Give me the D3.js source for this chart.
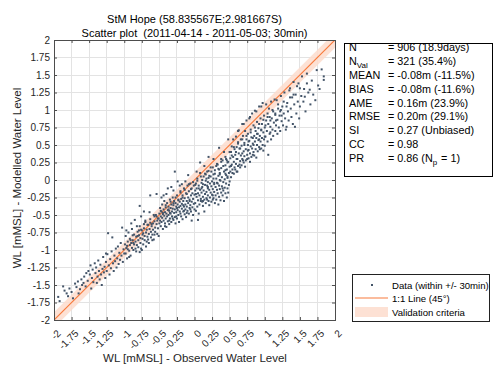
<!DOCTYPE html>
<html>
<head>
<meta charset="utf-8">
<script src="https://cdn.jsdelivr.net/npm/d3@7"></script>
<style>
  html, body { margin: 0; padding: 0; background: #fff; }
  svg { display: block; font-family: "Liberation Sans", Arial, sans-serif; }
  text { white-space: pre; }
</style>
</head>
<body>
<svg id="chart" width="496" height="365"></svg>
<script>
// ---------- DATA ----------
const titleLines = ["StM Hope (58.835567E;2.981667S)", "Scatter plot  (2011-04-14 - 2011-05-03; 30min)"];
const xLabel = "WL [mMSL] - Observed Water Level";
const yLabel = "WL [mMSL] - Modelled Water Level";
const tickValues = [-2, -1.75, -1.5, -1.25, -1, -0.75, -0.5, -0.25, 0, 0.25, 0.5, 0.75, 1, 1.25, 1.5, 1.75, 2];
const tickLabels = ["-2", "-1.75", "-1.5", "-1.25", "-1", "-0.75", "-0.5", "-0.25", "0", "0.25", "0.5", "0.75", "1", "1.25", "1.5", "1.75", "2"];
const axisDomain = [-2, 2];
const validationHalfWidth = 0.11;
const statNames = ["N", "N_Val", "MEAN", "BIAS", "AME", "RMSE", "SI", "CC", "PR"];
const statValues = ["= 906 (18.9days)", "= 321 (35.4%)", "= -0.08m (-11.5%)", "= -0.08m (-11.6%)", "= 0.16m (23.9%)", "= 0.20m (29.1%)", "= 0.27 (Unbiased)", "= 0.98", "= 0.86 (N_p = 1)"];
const legendLabels = ["Data (within +/- 30min)", "1:1 Line (45\u00b0)", "Validation criteria"];

// observed (x), modelled (y) pairs
const scatterPairs = [
[-1.94,-1.67],[-1.87,-1.52],[-1.85,-1.58],[-1.82,-1.62],[-1.73,-1.69],[-1.78,-1.55],[-1.70,-1.48],[-1.68,-1.53],[-1.66,-1.45],[-1.63,-1.56],[-1.61,-1.42],[-1.60,-1.50],[-1.58,-1.47],[-1.57,-1.38],[-1.55,-1.52],[-1.54,-1.33],[-1.52,-1.44],[-1.51,-1.30],[-1.92,-1.73],[-1.80,-1.66],[-1.75,-1.60],[-1.65,-1.62],
[-1.49,-1.35],[-1.48,-1.22],[-1.46,-1.40],[-1.45,-1.28],[-1.44,-1.46],[-1.42,-1.19],[-1.41,-1.33],[-1.40,-1.25],[-1.38,-1.38],[-1.37,-1.15],[-1.36,-1.30],[-1.35,-1.42],[-1.34,-1.21],[-1.33,-1.35],[-1.31,-1.27],[-1.30,-1.10],[-1.29,-1.32],[-1.28,-1.24],[-1.27,-1.40],[-1.26,-1.17],[-1.25,-1.30],[-1.24,-1.06],[-1.23,-0.76],[-1.22,-1.22],[-1.21,-1.35],[-1.20,-1.13],[-1.19,-1.26],[-1.18,-1.02],[-1.17,-0.82],[-1.16,-1.19],[-1.15,-1.30],[-1.14,-1.08],[-1.13,-1.16],[-1.12,-0.98],[-1.11,-1.25],[-1.10,-1.12],[-1.09,-0.95],[-1.08,-1.20],[-1.07,-1.04],[-1.06,-1.14],[-1.05,-0.90],[-1.04,-1.08],[-1.03,-0.68],[-1.02,-1.17],[-1.01,-0.99],[-1.00,-1.05],[-1.47,-1.55],[-1.39,-1.47],[-1.32,-1.50],[-1.26,-1.05],
[-0.99,-0.92],[-0.98,-1.05],[-0.98,-0.80],[-0.97,-0.97],[-0.96,-1.12],[-0.95,-0.88],[-0.95,-0.99],[-0.94,-0.75],[-0.93,-1.01],[-0.92,-0.93],[-0.92,-0.84],[-0.91,-1.08],[-0.90,-0.90],[-0.89,-0.97],[-0.89,-0.70],[-0.88,-0.86],[-0.87,-1.00],[-0.86,-0.92],[-0.86,-0.78],[-0.85,-0.57],[-0.84,-0.88],[-0.83,-1.02],[-0.83,-0.81],[-0.82,-0.93],[-0.81,-0.74],[-0.80,-0.86],[-0.80,-0.96],[-0.79,-0.79],[-0.78,-0.66],[-0.77,-0.90],[-0.77,-0.83],[-0.76,-0.98],[-0.75,-0.72],[-0.74,-0.84],[-0.74,-0.78],[-0.73,-0.92],[-0.72,-0.69],[-0.71,-0.80],[-0.71,-0.86],[-0.70,-0.60],[-0.69,-0.75],[-0.68,-0.88],[-0.68,-0.71],[-0.67,-0.81],[-0.66,-0.64],[-0.65,-0.77],[-0.65,-0.90],[-0.64,-0.70],[-0.63,-0.56],[-0.62,-0.74],[-0.62,-0.82],[-0.61,-0.66],[-0.60,-0.78],[-0.59,-0.62],[-0.59,-0.71],[-0.58,-0.85],[-0.57,-0.59],[-0.56,-0.68],[-0.56,-0.74],[-0.55,-0.50],[-0.54,-0.63],[-0.53,-0.77],[-0.53,-0.58],[-0.52,-0.69],[-0.51,-0.55],[-0.51,-0.80],[-0.50,-0.62],[-0.97,-0.72],[-0.90,-0.62],[-0.82,-0.66],[-0.76,-0.52],[-0.70,-0.58],[-0.64,-0.46],[-0.58,-0.50],[-0.93,-1.10],[-0.84,-0.98],[-0.75,-1.00],[-0.66,-0.85],[-0.57,-0.78],[-0.88,-0.79],[-0.79,-0.72],[-0.72,-0.63],[-0.63,-0.61],[-0.54,-0.52],[-0.60,-0.86],[-0.69,-0.95],[-0.78,-1.03],[-0.78,-0.37],[-0.63,-0.22],[-0.54,-0.20],[-0.72,-0.45],
[-0.50,-0.48],[-0.49,-0.58],[-0.49,-0.40],[-0.48,-0.66],[-0.48,-0.52],[-0.47,-0.45],[-0.47,-0.60],[-0.46,-0.35],[-0.46,-0.54],[-0.45,-0.49],[-0.45,-0.70],[-0.44,-0.42],[-0.44,-0.58],[-0.43,-0.51],[-0.43,-0.30],[-0.42,-0.62],[-0.42,-0.46],[-0.41,-0.39],[-0.41,-0.55],[-0.40,-0.48],[-0.40,-0.67],[-0.39,-0.33],[-0.39,-0.52],[-0.38,-0.43],[-0.38,-0.59],[-0.37,-0.38],[-0.37,-0.50],[-0.36,-0.63],[-0.36,-0.44],[-0.35,-0.28],[-0.35,-0.55],[-0.34,-0.40],[-0.34,-0.48],[-0.33,-0.60],[-0.33,-0.35],[-0.32,-0.45],[-0.32,-0.52],[-0.31,-0.25],[-0.31,-0.41],[-0.30,-0.57],[-0.30,-0.36],[-0.29,-0.47],[-0.29,-0.30],[-0.28,0.12],[-0.28,-0.42],[-0.28,-0.53],[-0.27,-0.33],[-0.27,-0.62],[-0.26,-0.38],[-0.26,-0.46],[-0.25,-0.22],[-0.25,-0.55],[-0.24,-0.35],[-0.24,-0.43],[-0.23,-0.28],[-0.23,-0.50],[-0.22,-0.39],[-0.22,-0.60],[-0.21,-0.31],[-0.21,-0.45],[-0.20,-0.18],[-0.20,-0.37],[-0.19,-0.52],[-0.19,-0.27],[-0.18,-0.41],[-0.18,-0.34],[-0.17,-0.56],[-0.17,-0.22],[-0.16,-0.45],[-0.16,-0.30],[-0.15,-0.38],[-0.15,-0.12],[-0.14,-0.49],[-0.14,-0.26],[-0.13,-0.35],[-0.13,-0.42],[-0.12,-0.19],[-0.12,-0.53],[-0.11,-0.30],[-0.11,-0.38],[-0.10,-0.08],[-0.10,-0.44],[-0.09,0.07],[-0.09,-0.25],[-0.09,-0.33],[-0.08,-0.48],[-0.08,-0.16],[-0.07,-0.40],[-0.07,-0.28],[-0.06,-0.36],[-0.06,-0.05],[-0.05,-0.22],[-0.05,-0.45],[-0.04,-0.31],[-0.04,-0.12],[-0.03,-0.39],[-0.03,-0.19],[-0.02,-0.27],[-0.02,-0.50],[-0.01,-0.08],[-0.01,-0.34],[0.00,-0.21],[0.00,-0.42],[-0.44,-0.22],[-0.38,-0.12],[-0.33,-0.10],[-0.24,-0.02],[-0.18,-0.06],[-0.47,-0.25],[-0.40,-0.20],[-0.30,-0.15],[-0.21,-0.08],[-0.13,-0.02],[-0.36,-0.58],[-0.26,-0.52],[-0.15,-0.44],[-0.06,-0.42],[-0.42,-0.66],[-0.31,-0.55],[-0.20,-0.48],[-0.11,-0.47],[-0.04,-0.58],
[0.01,-0.15],[0.01,-0.33],[0.02,-0.05],[0.02,-0.44],[0.03,-0.24],[0.03,-0.12],[0.04,-0.38],[0.04,0.02],[0.05,-0.19],[0.05,-0.29],[0.06,-0.48],[0.06,-0.08],[0.07,-0.22],[0.07,-0.35],[0.08,0.10],[0.08,-0.14],[0.09,-0.27],[0.09,-0.30],[0.10,-0.04],[0.10,-0.18],[0.11,-0.31],[0.11,-0.10],[0.12,-0.24],[0.12,-0.37],[0.13,0.05],[0.13,-0.15],[0.14,-0.28],[0.14,-0.45],[0.15,-0.07],[0.15,-0.20],[0.16,-0.33],[0.16,-0.01],[0.17,-0.17],[0.17,-0.26],[0.18,-0.28],[0.18,0.12],[0.19,-0.10],[0.19,-0.22],[0.20,-0.30],[0.20,0.03],[0.21,-0.14],[0.21,-0.36],[0.22,-0.05],[0.22,-0.25],[0.23,0.18],[0.23,-0.18],[0.24,-0.31],[0.24,-0.09],[0.25,-0.21],[0.25,-0.02],[0.26,-0.22],[0.26,-0.13],[0.27,0.08],[0.27,-0.26],[0.28,-0.06],[0.28,-0.17],[0.29,-0.33],[0.29,0.14],[0.30,-0.10],[0.30,-0.22],[0.31,0.02],[0.31,-0.28],[0.32,-0.14],[0.32,-0.04],[0.33,0.22],[0.33,-0.19],[0.34,-0.35],[0.34,0.06],[0.35,-0.08],[0.35,-0.24],[0.36,0.10],[0.36,-0.13],[0.37,-0.01],[0.37,-0.29],[0.38,-0.18],[0.38,0.17],[0.39,0.04],[0.39,-0.09],[0.40,-0.22],[0.40,0.28],[0.41,-0.03],[0.41,-0.15],[0.42,0.12],[0.42,-0.30],[0.43,0.01],[0.43,-0.11],[0.44,0.21],[0.44,-0.19],[0.45,0.07],[0.45,-0.05],[0.46,-0.25],[0.46,0.15],[0.47,-0.12],[0.47,0.03],[0.48,0.26],[0.48,-0.18],[0.49,0.10],[0.49,-0.07],[0.50,0.19],[0.50,-0.02],[0.03,0.12],[0.08,0.25],[0.14,0.20],[0.20,0.33],[0.27,0.30],[0.35,0.46],[0.42,0.40],[0.48,0.58],[0.12,-0.30],[0.19,-0.12],[0.26,-0.28],[0.33,-0.05],[0.40,-0.12],[0.47,0.05],[0.05,-0.57],[0.16,0.08],[0.24,0.12],[0.31,0.20],[0.38,0.26],[0.45,0.30],[0.18,-0.08],[0.28,-0.04],[0.36,0.00],[0.44,0.09],[0.11,0.00],[0.21,0.06],[0.34,0.16],[0.46,0.28],
[0.51,0.31],[0.51,0.12],[0.52,0.40],[0.52,0.04],[0.53,0.22],[0.53,0.48],[0.54,0.15],[0.54,0.10],[0.55,0.33],[0.55,0.58],[0.56,0.09],[0.56,0.26],[0.57,0.44],[0.57,0.18],[0.58,0.15],[0.58,0.36],[0.59,0.62],[0.59,0.23],[0.60,0.12],[0.60,0.47],[0.61,0.30],[0.61,0.12],[0.62,0.54],[0.62,0.20],[0.63,0.38],[0.63,0.71],[0.64,0.22],[0.64,0.45],[0.65,0.27],[0.65,0.18],[0.66,0.58],[0.66,0.35],[0.67,0.21],[0.67,0.49],[0.68,0.80],[0.68,0.30],[0.69,0.28],[0.69,0.63],[0.70,0.41],[0.70,0.25],[0.71,0.53],[0.71,0.34],[0.72,0.19],[0.72,0.70],[0.73,0.44],[0.73,0.28],[0.74,0.58],[0.74,0.85],[0.75,0.36],[0.75,0.30],[0.76,0.50],[0.76,0.66],[0.77,0.31],[0.77,0.43],[0.78,0.88],[0.78,0.56],[0.79,0.38],[0.79,0.26],[0.80,0.72],[0.80,0.48],[0.81,0.33],[0.81,0.61],[0.82,0.95],[0.82,0.45],[0.83,0.52],[0.83,0.36],[0.84,0.78],[0.84,0.40],[0.85,0.63],[0.85,0.35],[0.86,0.55],[0.86,0.99],[0.87,0.44],[0.87,0.70],[0.88,0.32],[0.88,0.60],[0.89,0.83],[0.89,0.50],[0.90,0.66],[0.90,0.41],[0.91,0.74],[0.91,0.57],[0.92,1.05],[0.92,0.47],[0.93,0.63],[0.93,0.44],[0.94,0.88],[0.94,0.55],[0.95,0.71],[0.95,0.45],[0.96,0.80],[0.96,0.60],[0.97,1.10],[0.97,0.50],[0.98,0.68],[0.98,0.42],[0.99,0.92],[0.99,0.58],[1.00,0.75],[1.00,0.49],[0.62,0.70],[0.70,0.80],[0.79,0.90],[0.88,0.98],[0.95,1.05],
[1.01,0.62],[1.02,0.85],[1.02,1.08],[1.03,0.70],[1.04,0.95],[1.04,0.55],[1.05,0.80],[1.05,0.36],[1.06,1.02],[1.07,0.90],[1.07,0.66],[1.08,0.76],[1.09,1.12],[1.09,0.58],[1.10,0.88],[1.11,0.72],[1.12,0.98],[1.12,0.63],[1.13,0.82],[1.14,1.15],[1.15,0.70],[1.15,0.93],[1.16,0.78],[1.17,1.14],[1.18,0.86],[1.18,0.66],[1.19,1.02],[1.20,0.75],[1.21,0.92],[1.22,0.98],[1.22,0.70],[1.23,1.20],[1.24,0.84],[1.25,1.05],[1.26,0.78],[1.27,0.95],[1.28,1.25],[1.29,0.88],[1.30,0.72],[1.31,0.76],[1.32,1.10],[1.33,0.98],[1.34,0.85],[1.35,1.28],[1.36,1.31],[1.37,1.02],[1.38,0.90],[1.39,1.18],[1.40,0.80],[1.41,1.40],[1.42,1.08],[1.43,0.76],[1.44,1.22],[1.45,0.95],[1.46,1.34],[1.47,1.12],[1.48,1.38],[1.49,0.88],[1.50,1.31],[1.50,1.05],
[1.52,1.20],[1.53,1.48],[1.55,1.12],[1.56,1.30],[1.57,1.19],[1.58,0.98],[1.60,1.52],[1.60,1.38],[1.62,1.25],[1.64,1.29],[1.65,1.08],[1.67,1.42],[1.69,1.22],[1.72,1.14],[1.74,1.57],[1.76,1.35],[1.78,1.30],[1.81,1.58],[1.84,1.43],[1.84,1.48],
[-0.96,-0.94],[-0.91,-0.86],[-0.87,-0.90],[-0.81,-0.80],[-0.76,-0.71],[-0.73,-0.76],[-0.67,-0.64],[-0.61,-0.63],[-0.57,-0.52],[-0.52,-0.55],[-0.48,-0.44],[-0.45,-0.47],[-0.41,-0.36],[-0.37,-0.42],[-0.34,-0.31],[-0.30,-0.33],[-0.27,-0.25],[-0.23,-0.29],[-0.20,-0.16],[-0.17,-0.25],[-0.14,-0.14],[-0.11,-0.20],[-0.08,-0.06],[-0.05,-0.13],[-0.02,-0.03],[0.01,-0.07],[0.04,-0.01],[0.06,-0.12],[0.09,0.05],[0.12,-0.06],[0.15,0.09],[0.17,0.02],[0.20,0.13],[0.23,0.05],[0.26,0.18],[0.29,0.09],[0.32,0.23],[0.35,0.15],[0.38,0.30],[0.41,0.20],[0.44,0.33],[0.47,0.25],[0.50,0.40],[0.53,0.35],[0.56,0.47],[0.59,0.40],[0.62,0.52],[0.65,0.45],[0.68,0.58],[0.71,0.50],[0.74,0.63],[0.77,0.55],[0.80,0.68],[0.83,0.60],[0.86,0.75],[0.89,0.66],[0.92,0.80],[0.95,0.72],[0.98,0.86],[1.01,0.78],[1.04,0.90],[1.08,0.85],[1.11,1.00],[1.15,0.95],[1.19,1.08],[1.23,1.00],[1.27,1.12],[1.31,1.05],[1.36,1.18],[1.41,1.22],
[-0.35,-0.47],[-0.25,-0.40],[-0.16,-0.36],[-0.07,-0.30],[0.02,-0.20],[0.10,-0.12],[0.19,-0.03],[0.27,0.02],[0.36,0.08],[0.44,0.14],[0.52,0.20],[0.60,0.30],[0.68,0.38],[0.76,0.42],[0.84,0.50],[0.92,0.58],[1.00,0.62],[1.08,0.68],[1.16,0.85],[1.24,0.92]
];

// ---------- DRAW ----------
const svg = d3.select("#chart");
const plot = { left: 54, top: 40, right: 335, bottom: 320 };
const x = d3.scaleLinear().domain(axisDomain).range([plot.left, plot.right]);
const y = d3.scaleLinear().domain(axisDomain).range([plot.bottom, plot.top]);

const axisColor = "#4d4d4d";
const textColor = "#262626";
const lineColor = "#f87a3c";
const bandColor = "#fddccc";
const dotColor = "#435468";

// titles
svg.selectAll("text.title").data(titleLines).join("text")
  .attr("class", "title")
  .attr("x", (plot.left + plot.right) / 2)
  .attr("y", (d, i) => 23 + i * 14)
  .attr("text-anchor", "middle")
  .attr("font-size", 11)
  .attr("fill", "#000")
  .text(d => d);

// clip
svg.append("defs").append("clipPath").attr("id", "clip")
  .append("rect").attr("x", plot.left).attr("y", plot.top)
  .attr("width", plot.right - plot.left).attr("height", plot.bottom - plot.top);

// grid
const grid = svg.append("g");
grid.selectAll("line.gx").data(tickValues).join("line")
  .attr("x1", d => x(d)).attr("x2", d => x(d))
  .attr("y1", plot.top).attr("y2", plot.bottom)
  .attr("stroke", "#e3e3e3").attr("stroke-width", 1).attr("shape-rendering", "crispEdges");
grid.selectAll("line.gy").data(tickValues).join("line")
  .attr("y1", d => y(d)).attr("y2", d => y(d))
  .attr("x1", plot.left).attr("x2", plot.right)
  .attr("stroke", "#e3e3e3").attr("stroke-width", 1).attr("shape-rendering", "crispEdges");

const inner = svg.append("g").attr("clip-path", "url(#clip)");

// validation band
const bandPts = [axisDomain[0] - 0.2, axisDomain[1] + 0.2];
const band = d3.area()
  .x(d => x(d))
  .y0(d => y(d - validationHalfWidth))
  .y1(d => y(d + validationHalfWidth));
inner.append("path").datum(bandPts).attr("d", band)
  .attr("fill", bandColor).attr("opacity", 0.85);

// 1:1 line
inner.append("line")
  .attr("x1", x(axisDomain[0])).attr("y1", y(axisDomain[0]))
  .attr("x2", x(axisDomain[1])).attr("y2", y(axisDomain[1]))
  .attr("stroke", lineColor).attr("stroke-width", 1.2);

// scatter
inner.selectAll("rect.pt").data(scatterPairs).join("rect")
  .attr("class", "pt")
  .attr("x", d => x(d[0]) - 1).attr("y", d => y(d[1]) - 1)
  .attr("width", 2).attr("height", 2)
  .attr("fill", dotColor);

// axes
const tickLen = 3;
const axB = d3.axisBottom(x).tickValues(tickValues).tickFormat((d, i) => tickLabels[i]).tickSizeInner(-tickLen).tickSizeOuter(0);
const axT = d3.axisTop(x).tickValues(tickValues).tickFormat("").tickSizeInner(-tickLen).tickSizeOuter(0);
const axL = d3.axisLeft(y).tickValues(tickValues).tickFormat((d, i) => tickLabels[i]).tickSizeInner(-tickLen).tickSizeOuter(0);
const axR = d3.axisRight(y).tickValues(tickValues).tickFormat("").tickSizeInner(-tickLen).tickSizeOuter(0);

function styleAxis(g) {
  g.select(".domain").attr("stroke", axisColor).attr("shape-rendering", "crispEdges");
  g.selectAll(".tick line").attr("stroke", axisColor);
  g.selectAll(".tick text").attr("fill", textColor).attr("font-size", 10)
    .attr("font-family", "Liberation Sans, Arial, sans-serif");
}

const gB = svg.append("g").attr("transform", `translate(0,${plot.bottom})`).call(axB).call(styleAxis);
gB.selectAll(".tick text")
  .attr("text-anchor", "end")
  .attr("dy", null).attr("y", null)
  .attr("transform", "translate(7,14) rotate(-45)");
svg.append("g").attr("transform", `translate(0,${plot.top})`).call(axT).call(styleAxis);
const gL = svg.append("g").attr("transform", `translate(${plot.left},0)`).call(axL).call(styleAxis);
gL.selectAll(".tick text").attr("x", -4);
svg.append("g").attr("transform", `translate(${plot.right},0)`).call(axR).call(styleAxis);

// axis labels
svg.append("text").attr("x", 195).attr("y", 362)
  .attr("text-anchor", "middle").attr("font-size", 11.5).attr("fill", textColor).text(xLabel);
svg.append("text").attr("transform", `translate(21,178) rotate(-90)`)
  .attr("text-anchor", "middle").attr("font-size", 11.5).attr("fill", textColor).text(yLabel);

// stats box
const sb = { x: 344, y: 43, w: 148, h: 133 };
svg.append("rect").attr("x", sb.x).attr("y", sb.y).attr("width", sb.w).attr("height", sb.h)
  .attr("fill", "#fff").attr("stroke", "#000").attr("stroke-width", 1).attr("shape-rendering", "crispEdges");
const rowY = d3.scaleLinear().domain([0, statNames.length - 1]).range([51, 162]);
function richText(sel, str) {
  const parts = str.split(/(_[A-Za-z]+)/);
  parts.forEach(p => {
    if (p.startsWith("_")) {
      sel.append("tspan").attr("font-size", 8).attr("dy", 3).text(p.slice(1));
      sel.append("tspan").attr("dy", -3).text("\u200a");
    } else if (p.length) {
      sel.append("tspan").text(p);
    }
  });
}
statNames.forEach((n, i) => {
  const t1 = svg.append("text").attr("x", 349).attr("y", rowY(i)).attr("font-size", 10.8).attr("fill", "#000");
  richText(t1, n);
  const t2 = svg.append("text").attr("x", 388).attr("y", rowY(i)).attr("font-size", 10.8).attr("fill", "#000");
  richText(t2, statValues[i]);
});

// legend
const lg = { x: 352, y: 274, w: 137, h: 47 };
svg.append("rect").attr("x", lg.x).attr("y", lg.y).attr("width", lg.w).attr("height", lg.h)
  .attr("fill", "#fff").attr("stroke", "#222").attr("stroke-width", 1).attr("shape-rendering", "crispEdges");
const legY = [285, 298, 312];
svg.append("rect").attr("x", 371).attr("y", legY[0] - 1).attr("width", 2).attr("height", 2).attr("fill", dotColor);
svg.append("line").attr("x1", 355).attr("x2", 388).attr("y1", legY[1]).attr("y2", legY[1])
  .attr("stroke", lineColor).attr("stroke-width", 1.2);
svg.append("rect").attr("x", 355).attr("y", legY[2] - 5).attr("width", 33).attr("height", 10)
  .attr("fill", bandColor).attr("opacity", 0.85);
legendLabels.forEach((l, i) => {
  svg.append("text").attr("x", 392).attr("y", legY[i] + 3.5).attr("font-size", 9.6).attr("fill", "#000").text(l);
});
</script>
</body>
</html>
